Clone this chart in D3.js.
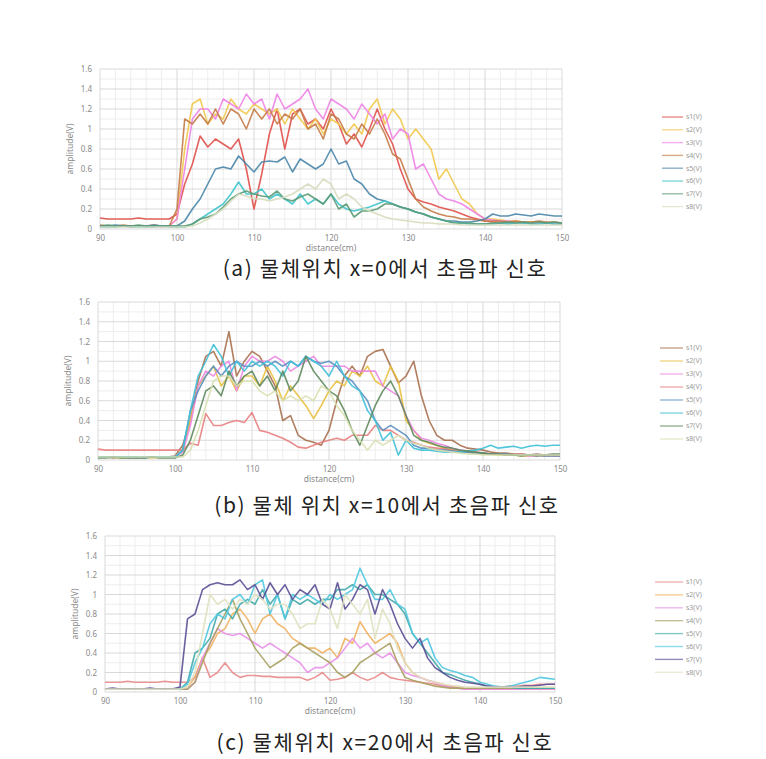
<!DOCTYPE html>
<html>
<head>
<meta charset="utf-8">
<script src="https://cdn.jsdelivr.net/npm/d3@7"></script>
<style>
  body { margin: 0; background: #fff; }
  text { font-family: "Noto Sans", "DejaVu Sans", sans-serif; }
</style>
</head>
<body>
<script>
// distance in cm, one sample per cm
var distance = [90,91,92,93,94,95,96,97,98,99,100,101,102,103,104,105,106,107,108,109,110,111,112,113,114,115,116,117,118,119,120,121,122,123,124,125,126,127,128,129,130,131,132,133,134,135,136,137,138,139,140,141,142,143,144,145,146,147,148,149,150];

var seriesNames = ["s1(V)","s2(V)","s3(V)","s4(V)","s5(V)","s6(V)","s7(V)","s8(V)"];
var xTickLabels = [90,100,110,120,130,140,150];
var yTickLabels = [0,0.2,0.4,0.6,0.8,1,1.2,1.4,1.6];
var captions = ["(a) 물체위치 x=0에서 초음파 신호", "(b) 물체 위치 x=10에서 초음파 신호", "(c) 물체위치 x=20에서 초음파 신호"];

// (a) x=0
var a_s1 = [0.11,0.10,0.10,0.10,0.10,0.11,0.10,0.10,0.10,0.10, 0.15,0.45,0.65,0.93,0.82,0.90,0.85,0.80,0.90,0.60, 0.20,0.55,0.95,1.20,0.80,1.15,1.20,1.05,1.10,1.00, 1.20,1.05,0.85,0.95,0.82,1.00,1.20,1.00,0.85,0.60, 0.40,0.30,0.27,0.25,0.22,0.20,0.18,0.15,0.12,0.10, 0.08,0.07,0.07,0.06,0.07,0.06,0.06,0.07,0.06,0.06,0.05];
var a_s2 = [0.03,0.03,0.02,0.03,0.03,0.03,0.02,0.03,0.03,0.03, 0.10,0.80,1.25,1.30,1.05,1.15,1.10,1.30,1.20,1.15, 1.25,1.20,1.15,1.20,1.05,1.20,1.10,1.00,1.10,0.95, 1.10,1.05,0.95,1.05,0.95,1.20,1.30,1.05,1.20,1.10, 0.90,1.00,0.90,0.80,0.50,0.60,0.45,0.30,0.25,0.15, 0.10,0.10,0.09,0.08,0.08,0.07,0.07,0.06,0.06,0.06,0.05];
var a_s3 = [0.03,0.02,0.03,0.03,0.02,0.03,0.03,0.03,0.02,0.03, 0.10,0.60,1.10,1.20,1.20,1.10,1.30,1.25,1.20,1.35, 1.25,1.30,1.10,1.35,1.20,1.25,1.30,1.40,1.20,1.10, 1.30,1.25,1.20,1.10,1.25,1.15,1.05,1.15,0.90,1.00, 0.95,0.60,0.65,0.50,0.35,0.30,0.28,0.25,0.20,0.15, 0.10,0.09,0.08,0.08,0.07,0.07,0.06,0.06,0.06,0.05,0.05];
var a_s4 = [0.04,0.03,0.03,0.04,0.03,0.03,0.03,0.04,0.03,0.03, 0.20,1.10,1.05,1.15,1.05,1.20,1.05,1.20,1.15,1.00, 1.20,1.10,1.20,1.05,1.15,1.10,1.20,1.00,1.05,0.90, 1.15,1.10,0.95,0.90,1.05,0.95,1.10,0.95,0.75,0.70, 0.50,0.30,0.22,0.18,0.15,0.13,0.12,0.10,0.10,0.09, 0.08,0.08,0.08,0.07,0.08,0.07,0.07,0.08,0.07,0.07,0.06];
var a_s5 = [0.03,0.03,0.04,0.03,0.03,0.03,0.03,0.04,0.03,0.03, 0.03,0.08,0.20,0.30,0.45,0.60,0.62,0.60,0.73,0.65, 0.57,0.67,0.68,0.67,0.72,0.57,0.70,0.65,0.60,0.65, 0.80,0.65,0.68,0.50,0.45,0.35,0.30,0.28,0.25,0.22, 0.20,0.17,0.15,0.12,0.10,0.08,0.08,0.07,0.07,0.08, 0.10,0.15,0.13,0.13,0.15,0.14,0.13,0.15,0.14,0.13,0.13];
var a_s6 = [0.02,0.02,0.02,0.03,0.02,0.02,0.02,0.02,0.03,0.02, 0.02,0.02,0.05,0.10,0.15,0.20,0.25,0.35,0.47,0.35, 0.35,0.40,0.30,0.35,0.30,0.25,0.35,0.25,0.30,0.25, 0.35,0.25,0.20,0.18,0.20,0.22,0.25,0.28,0.25,0.22, 0.20,0.17,0.15,0.12,0.10,0.08,0.06,0.06,0.05,0.05, 0.05,0.05,0.06,0.05,0.06,0.06,0.05,0.05,0.06,0.05,0.05];
var a_s7 = [0.03,0.04,0.03,0.03,0.03,0.04,0.03,0.03,0.03,0.03, 0.03,0.03,0.05,0.10,0.12,0.15,0.22,0.30,0.35,0.38, 0.35,0.33,0.32,0.38,0.30,0.28,0.32,0.35,0.30,0.25, 0.35,0.20,0.25,0.12,0.18,0.18,0.20,0.25,0.25,0.22, 0.20,0.17,0.15,0.12,0.10,0.08,0.06,0.06,0.06,0.05, 0.05,0.06,0.06,0.07,0.06,0.07,0.06,0.07,0.06,0.07,0.06];
var a_s8 = [0.02,0.02,0.02,0.02,0.02,0.02,0.02,0.02,0.02,0.02, 0.02,0.02,0.03,0.06,0.10,0.15,0.20,0.28,0.35,0.33, 0.30,0.30,0.28,0.30,0.32,0.35,0.40,0.45,0.40,0.50, 0.45,0.30,0.35,0.30,0.22,0.18,0.15,0.12,0.10,0.09, 0.08,0.07,0.06,0.06,0.05,0.05,0.05,0.04,0.04,0.04, 0.04,0.04,0.04,0.04,0.04,0.04,0.04,0.04,0.04,0.04,0.04];

// (b) x=10
var b_s1 = [0.03,0.03,0.02,0.03,0.03,0.02,0.03,0.03,0.03,0.03, 0.04,0.15,0.40,0.80,1.05,1.10,0.95,1.30,0.85,1.00, 1.10,1.05,0.90,0.75,0.40,0.45,0.25,0.20,0.18,0.15, 0.30,0.60,0.85,0.95,0.85,1.05,1.10,1.12,0.95,0.78, 0.85,1.00,0.65,0.40,0.25,0.20,0.20,0.15,0.12,0.11, 0.10,0.08,0.07,0.07,0.06,0.06,0.05,0.06,0.05,0.05,0.05];
var b_s2 = [0.03,0.03,0.03,0.02,0.03,0.03,0.03,0.02,0.03,0.03, 0.03,0.10,0.40,0.75,0.85,0.95,0.75,0.85,0.70,0.85, 0.85,0.75,0.95,0.80,0.60,0.75,0.65,0.55,0.42,0.55, 0.70,0.80,0.75,0.90,0.85,0.95,0.80,0.75,0.95,0.80, 0.40,0.30,0.20,0.17,0.15,0.12,0.10,0.09,0.08,0.07, 0.06,0.06,0.05,0.05,0.05,0.04,0.04,0.05,0.04,0.04,0.04];
var b_s3 = [0.03,0.03,0.03,0.03,0.02,0.03,0.03,0.03,0.03,0.03, 0.03,0.08,0.35,0.75,0.90,0.85,0.95,1.00,0.70,0.95, 1.05,1.00,1.00,1.05,1.00,0.90,0.95,1.00,1.05,0.95, 0.95,0.95,0.95,0.90,0.90,0.90,0.90,0.75,0.70,0.65, 0.45,0.30,0.22,0.20,0.17,0.15,0.12,0.10,0.09,0.08, 0.07,0.06,0.06,0.05,0.05,0.05,0.04,0.04,0.05,0.04,0.04];
var b_s4 = [0.11,0.10,0.10,0.10,0.10,0.10,0.10,0.10,0.10,0.10, 0.10,0.10,0.17,0.15,0.47,0.35,0.35,0.38,0.40,0.38, 0.48,0.30,0.28,0.25,0.22,0.18,0.13,0.12,0.15,0.18, 0.20,0.22,0.20,0.25,0.25,0.25,0.35,0.30,0.30,0.25, 0.20,0.18,0.15,0.13,0.12,0.11,0.10,0.09,0.08,0.08, 0.07,0.06,0.06,0.05,0.05,0.06,0.05,0.05,0.04,0.05,0.04];
var b_s5 = [0.03,0.03,0.03,0.03,0.03,0.03,0.02,0.03,0.03,0.03, 0.03,0.10,0.50,0.70,0.85,0.95,0.85,0.95,1.00,0.95, 0.95,1.00,0.95,1.00,0.95,1.00,0.95,1.05,1.00,0.98, 1.00,0.95,0.85,0.80,0.70,0.60,0.40,0.30,0.35,0.30, 0.25,0.15,0.12,0.12,0.10,0.10,0.09,0.08,0.08,0.07, 0.07,0.06,0.06,0.06,0.05,0.05,0.05,0.05,0.04,0.04,0.04];
var b_s6 = [0.03,0.03,0.03,0.03,0.03,0.03,0.03,0.03,0.03,0.03, 0.03,0.10,0.50,0.85,1.00,1.17,1.05,0.85,1.00,0.90, 1.00,0.95,1.00,0.95,0.85,1.00,0.95,1.05,1.00,0.95, 0.85,1.00,0.85,0.75,0.70,0.50,0.40,0.20,0.28,0.05, 0.20,0.12,0.10,0.10,0.09,0.08,0.08,0.08,0.09,0.10, 0.12,0.15,0.12,0.13,0.14,0.12,0.14,0.15,0.14,0.15,0.15];
var b_s7 = [0.02,0.02,0.03,0.02,0.02,0.02,0.02,0.03,0.02,0.02, 0.02,0.05,0.20,0.45,0.70,0.75,0.65,0.90,0.75,0.85, 0.90,0.75,0.85,0.70,0.90,0.70,0.80,1.05,0.90,0.80, 0.70,0.65,0.50,0.30,0.15,0.35,0.55,0.70,0.80,0.65, 0.45,0.25,0.20,0.18,0.15,0.13,0.12,0.10,0.09,0.08, 0.07,0.06,0.06,0.05,0.05,0.04,0.05,0.04,0.05,0.06,0.06];
var b_s8 = [0.03,0.03,0.03,0.03,0.03,0.03,0.03,0.03,0.03,0.03, 0.03,0.03,0.10,0.30,0.55,0.80,0.85,0.85,0.75,0.80, 0.80,0.70,0.65,0.70,0.60,0.65,0.60,0.65,0.60,0.75, 0.70,0.55,0.45,0.30,0.20,0.10,0.20,0.15,0.20,0.25, 0.20,0.17,0.15,0.12,0.10,0.09,0.08,0.07,0.06,0.06, 0.05,0.05,0.05,0.05,0.05,0.05,0.05,0.05,0.05,0.05,0.05];

// (c) x=20
var c_s1 = [0.10,0.10,0.10,0.11,0.10,0.10,0.10,0.10,0.11,0.10, 0.10,0.10,0.15,0.35,0.15,0.20,0.30,0.20,0.15,0.17, 0.17,0.16,0.16,0.15,0.15,0.15,0.15,0.12,0.15,0.20, 0.12,0.13,0.15,0.20,0.15,0.12,0.15,0.20,0.15,0.13, 0.12,0.11,0.10,0.09,0.08,0.06,0.05,0.04,0.03,0.03, 0.03,0.04,0.04,0.05,0.06,0.06,0.07,0.07,0.08,0.08,0.08];
var c_s2 = [0.03,0.03,0.03,0.03,0.03,0.03,0.03,0.03,0.03,0.03, 0.03,0.05,0.15,0.35,0.45,0.60,0.65,0.80,0.85,0.75, 0.60,0.75,0.80,0.70,0.65,0.55,0.50,0.45,0.45,0.40, 0.45,0.35,0.55,0.50,0.72,0.60,0.50,0.55,0.60,0.50, 0.30,0.20,0.15,0.12,0.10,0.08,0.06,0.05,0.04,0.03, 0.03,0.03,0.03,0.03,0.03,0.03,0.03,0.03,0.03,0.03,0.03];
var c_s3 = [0.03,0.03,0.03,0.03,0.03,0.03,0.03,0.03,0.03,0.03, 0.03,0.03,0.10,0.35,0.50,0.65,0.60,0.58,0.60,0.55, 0.50,0.45,0.50,0.45,0.40,0.35,0.30,0.20,0.25,0.25, 0.30,0.35,0.45,0.55,0.45,0.50,0.40,0.35,0.40,0.30, 0.20,0.17,0.15,0.12,0.10,0.07,0.05,0.04,0.03,0.03, 0.03,0.03,0.03,0.03,0.03,0.03,0.03,0.03,0.03,0.03,0.03];
var c_s4 = [0.03,0.03,0.03,0.03,0.03,0.03,0.03,0.03,0.03,0.03, 0.03,0.03,0.10,0.30,0.50,0.65,0.80,0.95,0.75,0.60, 0.45,0.35,0.25,0.30,0.35,0.45,0.50,0.45,0.40,0.35, 0.30,0.20,0.15,0.20,0.30,0.35,0.40,0.45,0.50,0.30, 0.15,0.12,0.10,0.08,0.06,0.05,0.04,0.04,0.04,0.04, 0.04,0.04,0.04,0.04,0.04,0.04,0.04,0.04,0.04,0.04,0.04];
var c_s5 = [0.03,0.03,0.03,0.03,0.03,0.03,0.03,0.03,0.03,0.03, 0.03,0.10,0.40,0.45,0.55,0.80,0.85,0.75,0.90,0.95, 0.90,1.05,0.90,1.00,0.75,0.95,0.90,0.95,0.90,0.95, 0.95,1.05,1.05,1.10,1.05,1.10,1.00,1.00,0.95,0.90, 0.80,0.60,0.50,0.40,0.30,0.20,0.18,0.15,0.12,0.10, 0.08,0.06,0.05,0.05,0.05,0.04,0.04,0.04,0.04,0.04,0.04];
var c_s6 = [0.03,0.03,0.03,0.03,0.03,0.03,0.03,0.03,0.03,0.03, 0.03,0.08,0.30,0.45,0.70,0.80,0.75,0.95,1.00,0.90, 1.10,1.15,0.80,1.00,0.75,1.00,0.95,1.00,0.95,0.90, 1.00,0.95,1.00,1.05,1.27,1.10,0.95,0.95,1.05,0.90, 0.85,0.60,0.50,0.55,0.35,0.25,0.22,0.20,0.17,0.15, 0.10,0.08,0.06,0.05,0.06,0.08,0.10,0.12,0.15,0.14,0.13];
var c_s7 = [0.03,0.04,0.03,0.03,0.03,0.03,0.04,0.03,0.03,0.03, 0.05,0.75,0.80,1.05,1.10,1.12,1.10,1.10,1.15,1.05, 1.10,0.95,1.12,1.00,1.10,0.95,1.05,1.00,1.10,0.90, 0.85,1.12,0.85,0.95,1.10,1.05,0.80,1.05,0.90,0.70, 0.55,0.45,0.55,0.35,0.25,0.20,0.15,0.12,0.10,0.09, 0.08,0.06,0.05,0.05,0.05,0.05,0.06,0.06,0.07,0.08,0.08];
var c_s8 = [0.03,0.03,0.03,0.03,0.03,0.03,0.03,0.03,0.03,0.03, 0.03,0.05,0.20,0.60,1.00,0.90,0.95,0.85,0.95,0.90, 1.00,0.95,0.85,0.90,0.90,0.80,0.65,0.70,0.70,0.95, 0.85,0.65,1.00,0.90,0.80,0.95,0.55,0.85,0.70,0.45, 0.30,0.20,0.15,0.12,0.10,0.08,0.07,0.06,0.05,0.05, 0.05,0.05,0.05,0.05,0.05,0.05,0.05,0.05,0.05,0.05,0.05];

var width = 766, height = 759;

var svg = d3.select("body").append("svg")
  .attr("width", width)
  .attr("height", height);

svg.append("rect").attr("width", width).attr("height", height).attr("fill", "#fff");

// layout of the three stacked charts
var panels = [
  { data: [a_s1,a_s2,a_s3,a_s4,a_s5,a_s6,a_s7,a_s8],
    colors: ["#e0504a","#f2c84b","#ee82e6","#c47a45","#4a86a8","#3fc4cc","#5b9a72","#d6dcbc"],
    left: 100, right: 562, top: 69, bottom: 229,
    legX: 662, legY: 117, legStep: 12.8,
    capY: 276, capX: 385 },
  { data: [b_s1,b_s2,b_s3,b_s4,b_s5,b_s6,b_s7,b_s8],
    colors: ["#a8704f","#e8c040","#ec86e0","#e88080","#5a8fc0","#40c0d8","#5e8a5e","#d8e0b0"],
    left: 98, right: 560, top: 302, bottom: 460,
    legX: 660, legY: 348, legStep: 13,
    capY: 513, capX: 387 },
  { data: [c_s1,c_s2,c_s3,c_s4,c_s5,c_s6,c_s7,c_s8],
    colors: ["#e88a8a","#f0b060","#e890e8","#a8a060","#40a8a8","#50c8e0","#5b4f95","#e0e0c0"],
    left: 105, right: 555, top: 536, bottom: 692,
    legX: 655, legY: 582, legStep: 12.9,
    capY: 750, capX: 385 }
];

panels.forEach(function (p, k) {
  var x = d3.scaleLinear().domain([90, 150]).range([p.left, p.right]);
  var y = d3.scaleLinear().domain([0, 1.6]).range([p.bottom, p.top]);
  var g = svg.append("g");

  // minor grid
  g.append("g").selectAll("line")
    .data(d3.range(92, 150, 2).filter(function (d) { return d % 10 !== 0; }))
    .join("line")
    .attr("x1", d => x(d)).attr("x2", d => x(d))
    .attr("y1", y(0)).attr("y2", y(1.6))
    .attr("stroke", "#ededed").attr("stroke-width", 1);
  g.append("g").selectAll("line")
    .data(d3.range(1, 16, 2).map(d => d / 10))
    .join("line")
    .attr("x1", x(90)).attr("x2", x(150))
    .attr("y1", d => y(d)).attr("y2", d => y(d))
    .attr("stroke", "#ededed").attr("stroke-width", 1);

  // major grid
  g.append("g").selectAll("line")
    .data(xTickLabels)
    .join("line")
    .attr("x1", d => x(d)).attr("x2", d => x(d))
    .attr("y1", y(0)).attr("y2", y(1.6))
    .attr("stroke", "#d9d9d9").attr("stroke-width", 1);
  g.append("g").selectAll("line")
    .data(yTickLabels)
    .join("line")
    .attr("x1", x(90)).attr("x2", x(150))
    .attr("y1", d => y(d)).attr("y2", d => y(d))
    .attr("stroke", "#d9d9d9").attr("stroke-width", 1);

  // axes
  var xAxis = g.append("g")
    .attr("transform", "translate(0," + p.bottom + ")")
    .call(d3.axisBottom(x).tickValues(xTickLabels).tickSize(0).tickPadding(6));
  var yAxis = g.append("g")
    .attr("transform", "translate(" + p.left + ",0)")
    .call(d3.axisLeft(y).tickValues(yTickLabels).tickSize(0).tickPadding(8)
      .tickFormat(d => String(+d.toFixed(1))));
  [xAxis, yAxis].forEach(function (ax) {
    ax.select(".domain").remove();
    ax.selectAll("text")
      .attr("fill", "#8a8a8a")
      .style("font-size", "8px")
      .style("font-family", "'Noto Sans', sans-serif");
  });

  g.append("text")
    .attr("x", (p.left + p.right) / 2)
    .attr("y", p.bottom + 22)
    .attr("text-anchor", "middle")
    .attr("fill", "#8a8a8a")
    .style("font-size", "8.5px")
    .text("distance(cm)");

  g.append("text")
    .attr("transform", "translate(" + (p.left - 27) + "," + ((p.top + p.bottom) / 2) + ") rotate(-90)")
    .attr("text-anchor", "middle")
    .attr("fill", "#8a8a8a")
    .style("font-size", "8.5px")
    .text("amplitude(V)");

  // series lines
  var line = d3.line()
    .x((d, i) => x(distance[i]))
    .y(d => y(d));

  g.append("g").selectAll("path")
    .data(p.data)
    .join("path")
    .attr("d", d => line(d))
    .attr("fill", "none")
    .attr("stroke", (d, i) => p.colors[i])
    .attr("stroke-width", 1.6)
    .attr("stroke-opacity", 0.9)
    .attr("stroke-linejoin", "round");

  // legend
  var leg = g.append("g").selectAll("g")
    .data(seriesNames)
    .join("g")
    .attr("transform", (d, i) => "translate(" + p.legX + "," + (p.legY + i * p.legStep) + ")");
  leg.append("line")
    .attr("x1", 0).attr("x2", 683 - p.legX)
    .attr("stroke", (d, i) => p.colors[i])
    .attr("stroke-opacity", 0.65)
    .attr("stroke-width", 1.4);
  leg.append("text")
    .attr("x", 686 - p.legX)
    .attr("dy", "0.35em")
    .attr("fill", "#9a9a9a")
    .style("font-size", "7px")
    .text(d => d);

  // caption
  svg.append("text")
    .attr("x", p.capX)
    .attr("y", p.capY)
    .attr("text-anchor", "middle")
    .attr("fill", "#222")
    .style("font-family", "'Noto Sans CJK KR', sans-serif")
    .style("font-size", "21px")
    .style("letter-spacing", "1.6px")
    .text(captions[k]);
});
</script>
</body>
</html>
